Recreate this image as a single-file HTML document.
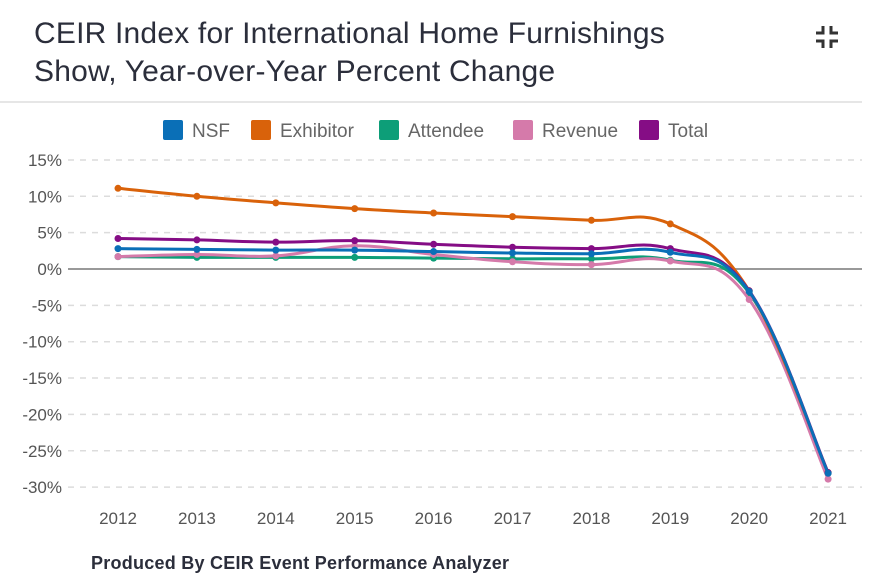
<!DOCTYPE html>
<html><head><meta charset="utf-8"><style>
body{margin:0;background:#fff;width:882px;height:581px;overflow:hidden;font-family:"Liberation Sans",sans-serif;}
#title{position:absolute;left:34px;top:15px;font-size:30px;letter-spacing:0.2px;line-height:38px;color:#2b2e3b;}
#sep{position:absolute;left:0;top:101px;width:862px;height:2px;background:#e6e6e6;}
#credit{position:absolute;left:91px;top:553px;font-size:18px;font-weight:bold;letter-spacing:0.25px;color:#2b2e3b;}
#icon{position:absolute;left:814px;top:24px;}
svg#chart{position:absolute;left:0;top:0;}
</style></head><body>
<div id="title">CEIR Index for International Home Furnishings<br>Show, Year-over-Year Percent Change</div>
<svg id="icon" width="26" height="26" viewBox="0 0 26 26">
<path d="M9 2v7H2M17 2v7h7M9 24v-7H2M17 24v-7h7" stroke="#333" stroke-width="3" fill="none"/></svg>
<div id="sep"></div>
<svg id="chart" width="882" height="581"></svg>
<div id="credit">Produced By CEIR Event Performance Analyzer</div>
<script>
const years=["2012","2013","2014","2015","2016","2017","2018","2019","2020","2021"];
const seriesNames=["NSF","Exhibitor","Attendee","Revenue","Total"];
const seriesColors=["#0a6fb7","#d9620a","#0d9e78","#d57aaa","#850d85"];
const nsf=[2.8,2.7,2.6,2.6,2.4,2.2,2.1,2.3,-3.1,-28.1];
const exhibitor=[11.1,10.0,9.1,8.3,7.7,7.2,6.7,6.2,-3.0,-28.0];
const attendee=[1.7,1.6,1.6,1.6,1.5,1.4,1.4,1.2,-3.3,-28.1];
const revenue=[1.7,2.0,1.8,3.2,2.0,1.0,0.6,1.1,-4.2,-28.9];
const total=[4.2,4.0,3.7,3.9,3.4,3.0,2.8,2.8,-3.0,-28.0];
const yTicks=[15,10,5,0,-5,-10,-15,-20,-25,-30];
const NS="http://www.w3.org/2000/svg";
const svg=document.getElementById('chart');
function x(i){return 118+i*78.9;}
function y(v){return 269-v*7.27;}
function mk(t,a,p){const e=document.createElementNS(NS,t);for(const k in a)e.setAttribute(k,a[k]);(p||svg).appendChild(e);return e;}
yTicks.forEach(t=>{
 const g=mk('line',{x1:68,x2:862,y1:y(t),y2:y(t),stroke:t===0?'#999':'#dcdcdc','stroke-width':t===0?2:1.5,'stroke-dasharray':t===0?'':'6 6'});
 
 
 const l=mk('text',{x:62,y:y(t)+6,'text-anchor':'end','font-size':17,fill:'#555'});
 l.textContent=t+'%';
 
 
});
years.forEach((yr,i)=>{
 const l=mk('text',{x:x(i),y:524,'text-anchor':'middle','font-size':17,fill:'#555'});
 l.textContent=yr;
 
 
});
const lgX=[163,251,379,513,639];
seriesNames.forEach((n,i)=>{
 const g=mk('g',{});
 
 
 mk('rect',{x:lgX[i],y:120,width:20,height:20,rx:2,fill:seriesColors[i]},g);
 const t=mk('text',{x:lgX[i]+29,y:137,'font-size':19,fill:'#666'},g);t.textContent=n;
});
function path(d){
 const p=d.map((v,i)=>[x(i),y(v)]);
 let s='M'+p[0][0]+','+p[0][1];const k=0.2;
 for(let i=0;i<p.length-1;i++){
  const p0=p[i-1]||p[i],p1=p[i],p2=p[i+1],p3=p[i+2]||p2;
  s+=' C'+(p1[0]+(p2[0]-p0[0])*k)+','+(p1[1]+(p2[1]-p0[1])*k)+' '+(p2[0]-(p3[0]-p1[0])*k)+','+(p2[1]-(p3[1]-p1[1])*k)+' '+p2[0]+','+p2[1];
 }
 return s;
}
const data=[attendee,revenue,exhibitor,total,nsf];
const idx=[2,3,1,4,0];
data.forEach((d,j)=>{
 const c=seriesColors[idx[j]];
 const g=mk('g',{});
 
 
 mk('path',{d:path(d),fill:'none',stroke:c,'stroke-width':3},g);
 d.forEach((v,i)=>{
  const pt=mk('circle',{cx:x(i),cy:y(v),r:3.5,fill:c},g);
  
  
 });
});
</script>
</body></html>
